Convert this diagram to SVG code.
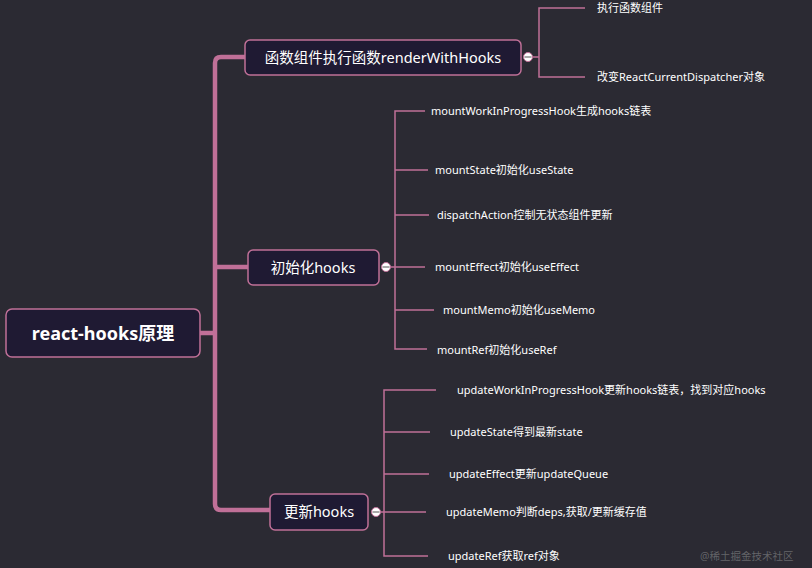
<svg xmlns="http://www.w3.org/2000/svg" width="812" height="568" viewBox="0 0 812 568">
<style>
.box{fill:#1f1a33;stroke:#c07098;stroke-width:1.5}
.t{font-family:"Noto Sans","Noto Sans CJK SC",sans-serif;fill:#fff}
.leaf{font-size:11px}
.br{font-size:14.5px}
.ln{stroke:#c07098;fill:none;stroke-width:1.5}
.tr{stroke:#c07098;fill:none;stroke-width:4.5}
.dot{fill:#fff;stroke:#c07098;stroke-width:1}
.mn{stroke:#555;stroke-width:1}
</style>
<rect width="812" height="568" fill="#2b2a33"/>
<g id="connectors">
<path class="tr" d="M200 333 H215 M256 57 H221 Q215 57 215 63 V504 Q215 510 221 510 H271 M215 267 H249"/>
<path class="ln" d="M533 57 H539 M585 8 H539 V77 H585"/>
<path class="ln" d="M390 267 H425 M425 111 H395 V349 H427 M395 170 H428 M395 215 H429 M395 310 H434"/>
<path class="ln" d="M380 512 H426 M436 390 H384 V556 H428 M384 432 H430 M384 474 H429"/>
<circle class="dot" cx="528" cy="57" r="4.5"/><path class="mn" d="M524.5 57 H531.5"/>
<circle class="dot" cx="386" cy="267" r="4.5"/><path class="mn" d="M382.5 267 H389.5"/>
<circle class="dot" cx="376" cy="512" r="4.5"/><path class="mn" d="M372.5 512 H379.5"/>
</g>
<g id="root"><rect class="box" x="6" y="309" width="194" height="48" rx="6"/><text class="t" x="103" y="340" text-anchor="middle" font-size="18" font-weight="bold">react-hooks原理</text></g>
<g id="b1"><rect class="box" x="245" y="40" width="276" height="35" rx="5"/><text class="t br" x="383" y="63" text-anchor="middle">函数组件执行函数renderWithHooks</text></g>
<g id="b2"><rect class="box" x="248" y="250" width="131" height="35" rx="5"/><text class="t br" x="313" y="273" text-anchor="middle">初始化hooks</text></g>
<g id="b3"><rect class="box" x="270" y="494" width="98" height="36" rx="5"/><text class="t br" x="319" y="517" text-anchor="middle">更新hooks</text></g>
<g id="l1"><text class="t leaf" x="597" y="12">执行函数组件</text></g>
<g id="l2"><text class="t leaf" x="597" y="81">改变ReactCurrentDispatcher对象</text></g>
<g id="m1"><text class="t leaf" x="431" y="115">mountWorkInProgressHook生成hooks链表</text></g>
<g id="m2"><text class="t leaf" x="435" y="174">mountState初始化useState</text></g>
<g id="m3"><text class="t leaf" x="437" y="219">dispatchAction控制无状态组件更新</text></g>
<g id="m4"><text class="t leaf" x="435" y="271">mountEffect初始化useEffect</text></g>
<g id="m5"><text class="t leaf" x="443" y="314">mountMemo初始化useMemo</text></g>
<g id="m6"><text class="t leaf" x="437" y="354">mountRef初始化useRef</text></g>
<g id="u1"><text class="t leaf" x="457" y="394">updateWorkInProgressHook更新hooks链表，找到对应hooks</text></g>
<g id="u2"><text class="t leaf" x="450" y="436">updateState得到最新state</text></g>
<g id="u3"><text class="t leaf" x="449" y="478">updateEffect更新updateQueue</text></g>
<g id="u4"><text class="t leaf" x="446" y="516">updateMemo判断deps,获取/更新缓存值</text></g>
<g id="u5"><text class="t leaf" x="448" y="560">updateRef获取ref对象</text></g>
<text class="t" x="700" y="560" font-size="10.5" fill-opacity="0.45" style="fill:#aaa">@稀土掘金技术社区</text>
</svg>
